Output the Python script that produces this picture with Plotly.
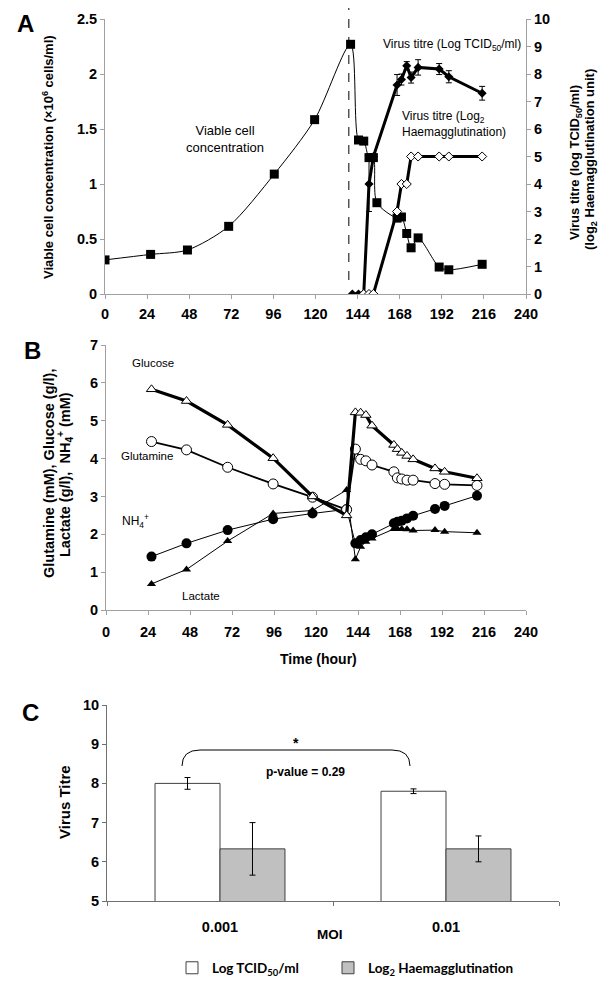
import plotly.graph_objects as go

# ---------------- DATA ----------------
# Panel A: viable cell concentration (x10^6 cells/ml)
time_vc = [0, 26, 47, 70.5, 96.5, 119.5, 140, 144.5, 147.5, 150.5, 153, 155, 166.5, 169, 172, 174.5, 178.5, 190.5, 196, 215]
viable_cells = [0.31, 0.36, 0.40, 0.615, 1.09, 1.585, 2.27, 1.40, 1.39, 1.24, 1.24, 0.83, 0.69, 0.70, 0.55, 0.42, 0.51, 0.245, 0.22, 0.27]

# Panel A: virus titre, log TCID50/ml
time_tcid = [141, 144.5, 147.5, 150.5, 153, 166.5, 169, 172, 174.5, 178.5, 190.5, 196, 215]
tcid = [0, 0, 0, 4.0, 5.0, 7.6, 7.8, 8.3, 7.87, 8.24, 8.18, 7.9, 7.3]
tcid_err = [0, 0, 0, 1.0, 0, 0.38, 0.2, 0.15, 0.2, 0.28, 0.2, 0.22, 0.25]

# Panel A: virus titre, log2 haemagglutination
time_ha = [147.5, 150.5, 153, 166.5, 169, 172, 174.5, 178.5, 190.5, 196, 215]
ha = [0, 0, 0, 3, 4, 4, 5, 5, 5, 5, 5]

infection_time = 139

# Panel B: metabolites
time_b = [26, 46, 69.5, 95.5, 118, 137.5, 142.5, 145.5, 148.5, 152, 164.5, 166.5, 169, 172, 175.5, 188, 193.5, 212]
glucose = [5.83, 5.52, 4.89, 4.01, 3.0, 2.5, 5.22, 5.21, 5.15, 4.87, 4.36, 4.25, 4.15, 4.07, 3.98, 3.74, 3.65, 3.48]
glutamine = [4.45, 4.23, 3.77, 3.33, 2.98, 2.65, 4.25, 3.98, 3.94, 3.83, 3.65, 3.49, 3.46, 3.43, 3.43, 3.34, 3.32, 3.29]
nh4 = [1.41, 1.76, 2.11, 2.40, 2.55, 2.66, 1.76, 1.85, 1.92, 2.0, 2.29, 2.33, 2.36, 2.42, 2.49, 2.67, 2.75, 3.02]
lactate = [0.69, 1.07, 1.82, 2.55, 2.63, 3.17, 1.34, 1.67, 1.80, 1.89, 2.14, 2.14, 2.14, 2.13, 2.10, 2.11, 2.07, 2.04]

# Panel C: virus titre by MOI
moi = ["0.001", "0.01"]
tcid_c = [8.0, 7.8]
tcid_c_err = [0.15, 0.06]
ha_c = [6.33, 6.33]
ha_c_err = [0.67, 0.33]

time_ticks = list(range(0, 241, 24))

# ---------------- LAYOUT HELPERS ----------------
W, H = 600, 983
FONT = "Liberation Sans, Arial, sans-serif"
LEGFONT = "Lato, Liberation Sans, sans-serif"
AXC = "#A0A0A0"


def fx(p):
    return p / W


def fy(p):
    return 1 - p / H


fig = go.Figure()

# ---- Panel A ----
fig.add_trace(go.Scatter(
    x=time_vc, y=viable_cells, mode="lines+markers",
    line=dict(color="black", width=1, shape="spline", smoothing=0.8),
    marker=dict(symbol="square", size=9, color="black"),
    xaxis="x", yaxis="y", showlegend=False))
fig.add_trace(go.Scatter(
    x=time_tcid, y=tcid, mode="lines+markers",
    line=dict(color="black", width=3),
    marker=dict(symbol="diamond", size=7, color="black"),
    error_y=dict(type="data", array=tcid_err, color="black", thickness=1, width=3),
    xaxis="x", yaxis="y2", showlegend=False))
fig.add_trace(go.Scatter(
    x=time_ha, y=ha, mode="lines+markers",
    line=dict(color="black", width=3),
    marker=dict(symbol="diamond", size=7, color="white", line=dict(color="black", width=1)),
    xaxis="x", yaxis="y2", showlegend=False))

# ---- Panel B ----
fig.add_trace(go.Scatter(
    x=time_b, y=nh4, mode="lines+markers",
    line=dict(color="black", width=1),
    marker=dict(symbol="circle", size=10, color="black"),
    xaxis="x2", yaxis="y3", showlegend=False))
fig.add_trace(go.Scatter(
    x=time_b, y=lactate, mode="lines+markers",
    line=dict(color="black", width=1),
    marker=dict(symbol="triangle-up", size=8, color="black"),
    xaxis="x2", yaxis="y3", showlegend=False))
fig.add_trace(go.Scatter(
    x=time_b, y=glutamine, mode="lines+markers",
    line=dict(color="black", width=1.8),
    marker=dict(symbol="circle", size=10, color="white", line=dict(color="black", width=1)),
    xaxis="x2", yaxis="y3", showlegend=False))
fig.add_trace(go.Scatter(
    x=time_b, y=glucose, mode="lines+markers",
    line=dict(color="black", width=3.2),
    marker=dict(symbol="triangle-up", size=9, color="white", line=dict(color="black", width=1)),
    xaxis="x2", yaxis="y3", showlegend=False))

# ---- Panel C ----
fig.add_trace(go.Bar(
    x=moi, y=tcid_c, name="Log TCID<sub>50</sub>/ml", legend="legend",
    marker=dict(color="white", line=dict(color="#404040", width=1)),
    error_y=dict(type="data", array=tcid_c_err, color="black", thickness=1, width=3),
    xaxis="x3", yaxis="y4"))
fig.add_trace(go.Bar(
    x=moi, y=ha_c, name="Log<sub>2</sub> Haemagglutination", legend="legend2",
    marker=dict(color="#C0C0C0", line=dict(color="#404040", width=1)),
    error_y=dict(type="data", array=ha_c_err, color="black", thickness=1, width=3),
    xaxis="x3", yaxis="y4"))

tickfont = dict(family=FONT, size=14.5, color="black", weight="bold")
common = dict(showgrid=False, zeroline=False, showline=True, linecolor=AXC, linewidth=1,
              ticks="outside", tickcolor=AXC, ticklen=4, tickfont=tickfont, automargin=False)
common_c = dict(showgrid=False, zeroline=False, showline=True, linecolor="#707070", linewidth=1,
                ticks="outside", tickcolor="#707070", ticklen=4, tickfont=tickfont, automargin=False)
legfont = dict(family=LEGFONT, size=13.5, color="black", weight="bold")

fig.update_layout(
    template="none",
    width=W, height=H, margin=dict(l=0, r=0, t=0, b=0, autoexpand=False),
    paper_bgcolor="white", plot_bgcolor="white",
    font=dict(family=FONT, color="black"),
    barmode="group", bargap=0.425, bargroupgap=0,
    xaxis=dict(domain=[fx(105), fx(526)], anchor="y", range=[0, 240], tickvals=time_ticks,
               ticklabelstandoff=3, **common),
    yaxis=dict(domain=[fy(294), fy(19)], anchor="x", range=[0, 2.5], tickvals=[0, 0.5, 1, 1.5, 2, 2.5],
               ticktext=["0", "0.5", "1", "1.5", "2", "2.5"], **common),
    yaxis2=dict(overlaying="y", anchor="x", side="right", range=[0, 10], dtick=1, **common),
    xaxis2=dict(domain=[fx(106), fx(526)], anchor="y3", range=[0, 240], tickvals=time_ticks,
                ticklabelstandoff=5, **common),
    yaxis3=dict(domain=[fy(610), fy(345)], anchor="x2", range=[0, 7], dtick=1, **common),
    xaxis3=dict(domain=[fx(107), fx(559)], anchor="y4", type="category", tickson="boundaries",
                ticklabelstandoff=13, **common_c),
    yaxis4=dict(domain=[fy(901), fy(705)], anchor="x3", range=[5, 10], dtick=1, **common_c),
    legend=dict(orientation="h", x=fx(172), y=fy(968), xanchor="left", yanchor="middle",
                font=legfont, itemwidth=30, bgcolor="rgba(0,0,0,0)", borderwidth=0),
    legend2=dict(orientation="h", x=fx(328), y=fy(968), xanchor="left", yanchor="middle",
                 font=legfont, itemwidth=30, bgcolor="rgba(0,0,0,0)", borderwidth=0),
)

# Dashed infection line
fig.add_shape(type="line", xref="x", yref="paper", x0=infection_time, x1=infection_time,
              y0=fy(280), y1=fy(8), line=dict(color="black", width=1, dash="dash"))

# Bracket (panel C)
x0, x1 = fx(182), fx(410)
yb, yt = fy(766), fy(750)
rx = 18 / W
fig.add_shape(type="path", xref="paper", yref="paper",
              path=f"M {x0},{yb} Q {x0},{yt} {x0 + rx},{yt} L {x1 - rx},{yt} Q {x1},{yt} {x1},{yb}",
              line=dict(color="black", width=1))


def ann(text, x, y, size=11, bold=False, angle=0, xanchor="center", align="center", family=FONT):
    fig.add_annotation(text=text, x=fx(x), y=fy(y), xref="paper", yref="paper", showarrow=False,
                       textangle=angle, xanchor=xanchor, yanchor="middle", align=align,
                       font=dict(family=family, size=size, color="black", weight="bold" if bold else "normal"))


# Panel letters
ann("A", 25, 24, size=24, bold=True)
ann("B", 32, 350, size=24, bold=True)
ann("C", 30, 712, size=24, bold=True)

# Panel A labels
ann("Viable cell concentration (×10<sup>6</sup> cells/ml)", 48, 157, size=13, bold=True, angle=-90)
ann("Virus titre (log TCID<sub>50</sub>/ml)", 576, 163, size=13, bold=True, angle=-90)
ann("(log<sub>2</sub> Haemagglutination unit)", 590, 160, size=13, bold=True, angle=-90)
ann("Viable cell<br>concentration", 225, 139, size=13)
ann("Virus titre (Log TCID<sub>50</sub>/ml)", 452, 45, size=12)
ann("Virus titre (Log<sub>2</sub><br>Haemagglutination)", 400, 124, size=12, xanchor="left", align="left")

# Panel B labels
ann("Glutamine (mM), Glucose (g/l),", 49, 474, size=14.5, bold=True, angle=-90)
ann("Lactate (g/l),  NH<sub>4</sub><sup>+</sup> (mM)", 65, 475, size=14.5, bold=True, angle=-90)
ann("Glucose", 153, 363, size=11.5)
ann("Glutamine", 147, 456, size=11.5)
ann("NH<sub>4</sub><sup>+</sup>", 135, 521, size=12)
ann("Lactate", 201, 596, size=11.5)
ann("Time (hour)", 318, 659, size=14, bold=True)

# Panel C labels
ann("Virus Titre", 64, 802, size=15, bold=True, angle=-90)
ann("MOI", 330, 934, size=13.5, bold=True)
ann("*", 296, 743, size=14, bold=True)
ann("p-value = 0.29", 305, 772, size=12, bold=True)

fig.write_html(
    "out.html",
    config={"displayModeBar": False},
    post_script="document.body.style.margin='0';document.body.style.padding='0';"
                "document.documentElement.style.overflow='hidden';",
)
